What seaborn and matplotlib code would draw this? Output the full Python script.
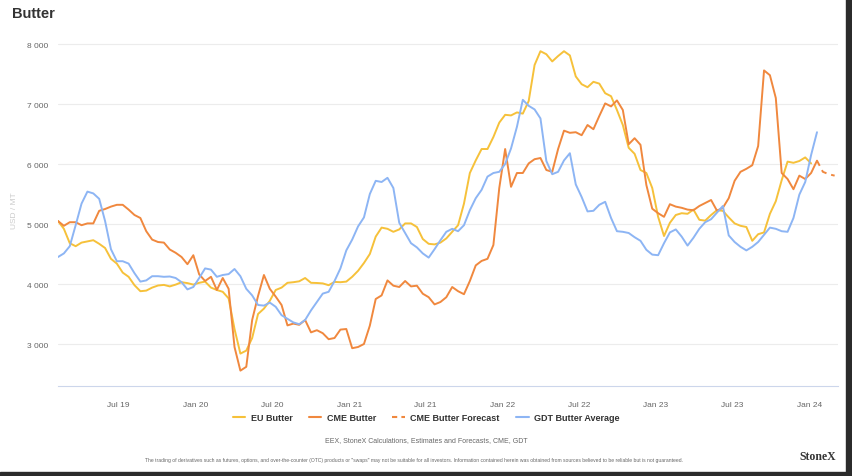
import seaborn as sns
import matplotlib.pyplot as plt
import matplotlib.ticker as mticker
from matplotlib.lines import Line2D
import pandas as pd

# fortnightly readings, starting 2019-02-08
start = "2019-02-08"

eu_butter = [
    5050, 4920, 4680, 4630, 4690, 4710, 4730, 4670, 4600, 4420,
    4340, 4190, 4120, 3980, 3880, 3890, 3940, 3975, 3985, 3960,
    3990, 4030, 4015, 3990, 4020, 4040, 3940, 3900, 3870, 3760,
    3250, 2840, 2890, 3100, 3500, 3590, 3720, 3900, 3940, 4020,
    4030, 4045, 4100, 4020, 4017, 4010, 3980, 4035, 4030, 4040,
    4120, 4220, 4350, 4500, 4790, 4940, 4920, 4870, 4910, 5010,
    5010, 4950, 4750, 4670, 4660, 4690, 4760, 4870, 4980, 5340,
    5850, 6060, 6250, 6250, 6450, 6690, 6820, 6810, 6860, 6840,
    7050, 7650, 7880, 7830, 7710, 7800, 7880, 7810, 7460, 7330,
    7280, 7370, 7340, 7180, 7130, 6900, 6650, 6270, 6170, 5900,
    5850, 5600, 5120, 4800, 5020, 5150, 5180, 5170, 5240, 5070,
    5056, 5150, 5230, 5220, 5110, 5010, 4970, 4950, 4720, 4830,
    4860, 5170, 5380, 5730, 6040, 6020, 6050, 6110, 6010,
]

cme_butter = [
    5050, 4970, 5030, 5030, 4980, 5010, 5010, 5220, 5250, 5290,
    5320, 5320, 5240, 5150, 5100, 4880, 4740, 4700, 4690, 4575,
    4520, 4450, 4330, 4480, 4160, 4050, 4120, 3900, 4100, 3920,
    2950, 2556, 2620, 3400, 3800, 4150, 3920, 3790, 3650, 3310,
    3340, 3320, 3400, 3194, 3230, 3180, 3080, 3100, 3240, 3250,
    2930, 2950, 3000, 3306, 3750, 3810, 4060, 3972, 3950, 4050,
    3960, 3972, 3838, 3780, 3660, 3700, 3780, 3950, 3880, 3830,
    4050, 4310, 4385, 4420, 4650, 5600, 6250, 5620, 5850, 5850,
    6010, 6080, 6100, 5900, 5870, 6250, 6556, 6520, 6530, 6480,
    6650, 6580, 6800, 7010, 6960, 7060, 6900, 6330, 6430, 6320,
    5650, 5255, 5180, 5120, 5330, 5290, 5270, 5240, 5230, 5300,
    5350, 5400, 5222, 5270, 5430, 5720, 5870, 5920, 5980, 6300,
    7560, 7480, 7100, 5850, 5750, 5580, 5806, 5750, 5850, 6056,
]

cme_forecast = [6056, 5870, 5830, 5806]

gdt_butter = [
    4450, 4510, 4630, 4980, 5340, 5540, 5510, 5420, 5050, 4580,
    4380, 4380, 4340, 4180, 4040, 4060, 4130, 4130, 4120, 4125,
    4100, 4030, 3910, 3950, 4100, 4260, 4240, 4120, 4150, 4165,
    4250, 4130, 3920, 3810, 3650, 3640, 3690, 3620, 3480, 3420,
    3360, 3330, 3400, 3560, 3700, 3840, 3870, 4050, 4260, 4560,
    4740, 4960, 5110, 5500, 5720, 5700, 5770, 5600, 5020, 4850,
    4680, 4610, 4510, 4440, 4580, 4730, 4870, 4920, 4880, 4980,
    5230, 5430, 5570, 5790, 5850, 5870, 6000, 6260, 6620, 7070,
    6970, 6910, 6760, 6050, 5830, 5870, 6060, 6180, 5660, 5450,
    5210, 5220, 5320, 5370, 5100, 4880, 4870, 4850, 4780, 4720,
    4570, 4490, 4480, 4680, 4860, 4910, 4790, 4640, 4770, 4920,
    5030, 5080, 5190, 5300, 4810, 4700, 4620, 4560, 4620, 4700,
    4820, 4940, 4920, 4880, 4870, 5100, 5490, 5700, 6150, 6530,
]

tick_dates = ["2019-07-01", "2020-01-01", "2020-07-01", "2021-01-01", "2021-07-01",
              "2022-01-01", "2022-07-01", "2023-01-01", "2023-07-01", "2024-01-01"]
tick_labels = ["Jul 19", "Jan 20", "Jul 20", "Jan 21", "Jul 21",
               "Jan 22", "Jul 22", "Jan 23", "Jul 23", "Jan 24"]
y_ticks = [3000, 4000, 5000, 6000, 7000, 8000]

c_eu = "#F6C13A"
c_cme = "#F0883E"
c_gdt = "#8DB5F4"

dates = pd.date_range(start, periods=len(gdt_butter), freq="14D")
eu = pd.DataFrame({"date": dates[:len(eu_butter)], "value": eu_butter})
cme = pd.DataFrame({"date": dates[:len(cme_butter)], "value": cme_butter})
fc = pd.DataFrame({"date": pd.date_range(dates[len(cme_butter) - 1], periods=len(cme_forecast), freq="14D"),
                   "value": cme_forecast})
gdt = pd.DataFrame({"date": dates, "value": gdt_butter})

sns.set_style("white")
plt.rcParams["font.family"] = ["Liberation Sans", "DejaVu Sans"]

fig = plt.figure(figsize=(8.52, 4.77), dpi=100)
ax = fig.add_axes([58 / 852, 1 - 387 / 477, (838 - 58) / 852, (387 - 35) / 477])

sns.lineplot(data=eu, x="date", y="value", color=c_eu, lw=1.4, ax=ax)
sns.lineplot(data=cme, x="date", y="value", color=c_cme, lw=1.4, ax=ax)
sns.lineplot(data=fc, x="date", y="value", color=c_cme, lw=1.4, ls=(0, (3, 2.5)), ax=ax)
sns.lineplot(data=gdt, x="date", y="value", color=c_gdt, lw=1.4, ax=ax)

ax.set_xlim(pd.Timestamp(start), pd.Timestamp("2024-03-09"))
ax.set_ylim(2300, 8167)
ax.set_yticks(y_ticks)
ax.yaxis.set_major_formatter(mticker.FuncFormatter(lambda v, p: f"{v:,.0f}".replace(",", " ")))
ax.set_xticks(pd.to_datetime(tick_dates))
ax.set_xticklabels(tick_labels)
ax.grid(axis="y", color="#ececec", lw=0.8)
ax.set_axisbelow(True)
for s in ["top", "right", "left"]:
    ax.spines[s].set_visible(False)
ax.spines["bottom"].set_color("#ccd6eb")
ax.spines["bottom"].set_linewidth(0.8)
ax.tick_params(axis="x", length=5, width=0.8, color="#ccd6eb", labelsize=6, labelcolor="#666666", pad=6)
ax.tick_params(axis="y", length=0, labelsize=6, labelcolor="#666666", pad=7)
ax.set_xlabel("")
ax.set_ylabel("USD / MT", fontsize=6, color="#cccccc")
ax.yaxis.set_label_coords(-40 / 780, 0.5)

fig.text(12 / 852, 1 - 14 / 477, "Butter", fontsize=10.5, fontweight="bold", color="#333333", va="center")

handles = [Line2D([], [], color=c_eu, lw=1.5),
           Line2D([], [], color=c_cme, lw=1.5),
           Line2D([], [], color=c_cme, lw=1.5, ls=(0, (2.5, 2))),
           Line2D([], [], color=c_gdt, lw=1.5)]
fig.legend(handles, ["EU Butter", "CME Butter", "CME Butter Forecast", "GDT Butter Average"],
           loc="center", bbox_to_anchor=(426 / 852, 1 - 419 / 477), ncol=4, frameon=False,
           prop={"size": 6.5, "weight": "bold"}, labelcolor="#333333",
           handlelength=1.4, handletextpad=0.6, columnspacing=1.8)

fig.text(426 / 852, 1 - 441 / 477, "EEX, StoneX Calculations, Estimates and Forecasts, CME, GDT",
         fontsize=5, color="#666666", ha="center", va="center")
fig.text(414 / 852, 1 - 461 / 477,
         "The trading of derivatives such as futures, options, and over-the-counter (OTC) products or \"swaps\" "
         "may not be suitable for all investors. Information contained herein was obtained from sources "
         "believed to be reliable but is not guaranteed.",
         fontsize=3.6, color="#666666", ha="center", va="center")
fig.text(818 / 852, 1 - 457 / 477, "StoneX", fontsize=8.5, fontweight="bold", family="Liberation Serif",
         color="#333333", ha="center", va="center")

# dark frame at the bottom and right edges
fig.patches.append(plt.Rectangle((0, 0), 1, 4 / 477, transform=fig.transFigure, color="#2b2b2b"))
fig.patches.append(plt.Rectangle((846 / 852, 0), 6 / 852, 1, transform=fig.transFigure, color="#2b2b2b"))

fig.savefig("out.png", dpi=100)
